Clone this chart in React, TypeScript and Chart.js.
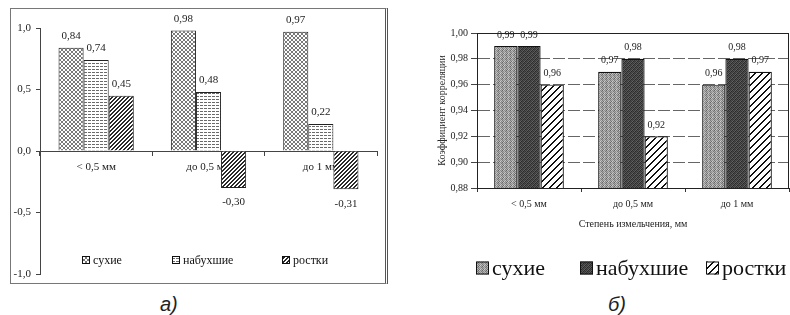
import React, { useEffect, useRef } from "react";
import { Chart, registerables } from "chart.js";

Chart.register(...registerables);

// ---- data ----
const categories = ["< 0,5 мм", "до 0,5 мм", "до 1 мм"];
const seriesNames = ["сухие", "набухшие", "ростки"];

// chart а)
const dryA = [0.84, 0.98, 0.97];
const swollenA = [0.74, 0.48, 0.22];
const sproutsA = [0.45, -0.3, -0.31];
const yTicksA = [-1.0, -0.5, 0.0, 0.5, 1.0];

// chart б)
const dryB = [0.99, 0.97, 0.96];
const swollenB = [0.99, 0.98, 0.98];
const sproutsB = [0.96, 0.92, 0.97];
const yTicksB = [0.88, 0.9, 0.92, 0.94, 0.96, 0.98, 1.0];

const SERIF = "'Liberation Serif', 'DejaVu Serif', serif";

// ---- patterns ----
function makePattern(w: number, h: number, fn: (x: number, y: number) => string) {
  const c = document.createElement("canvas");
  c.width = w;
  c.height = h;
  const ctx = c.getContext("2d")!;
  for (let y = 0; y < h; y++) {
    for (let x = 0; x < w; x++) {
      ctx.fillStyle = fn(x, y);
      ctx.fillRect(x, y, 1, 1);
    }
  }
  const main = document.createElement("canvas").getContext("2d")!;
  return main.createPattern(c, "repeat")!;
}

const speckLight = [
  [150, 190, 120, 175],
  [205, 135, 180, 110],
  [140, 170, 100, 195],
  [185, 120, 160, 140],
];
const speckDark = [
  [60, 90, 50, 80],
  [100, 40, 70, 55],
  [45, 85, 60, 95],
  [75, 50, 90, 40],
];
const g = (v: number) => `rgb(${v},${v},${v})`;

function patternsA() {
  const dots = makePattern(4, 4, (x, y) => (x === y || x === 3 - y ? "#7a7a7a" : "#ffffff"));
  const hlines = makePattern(4, 3, (x, y) => (y === 0 && x < 3 ? "#6a6a6a" : "#ffffff"));
  const hatch = makePattern(4, 4, (x, y) => ((x + y) % 4 < 2 ? "#2a2a2a" : "#ffffff"));
  return [dots, hlines, hatch];
}
function patternsB() {
  const light = makePattern(4, 4, (x, y) => g(speckLight[y][x]));
  const dark = makePattern(4, 4, (x, y) => g(speckDark[y][x]));
  const hatch = makePattern(7, 7, (x, y) => ((x + y) % 7 < 2 ? "#111111" : "#ffffff"));
  return [light, dark, hatch];
}

const fmt = (v: number, d: number) => v.toFixed(d).replace(".", ",");

// ---- plugins ----
function valueLabels(font: string, digits: number) {
  return {
    id: "valueLabels",
    afterDatasetsDraw(chart: any) {
      const ctx = chart.ctx;
      ctx.save();
      ctx.font = font;
      ctx.fillStyle = "#222";
      ctx.textAlign = "center";
      chart.data.datasets.forEach((ds: any, di: number) => {
        const meta = chart.getDatasetMeta(di);
        meta.data.forEach((el: any, i: number) => {
          const v = ds.data[i];
          const txt = fmt(v, digits);
          if (v >= 0) {
            ctx.textBaseline = "bottom";
            ctx.fillText(txt, el.x, el.y - 6);
          } else {
            ctx.textBaseline = "top";
            ctx.fillText(txt, el.x, el.y + 9);
          }
        });
      });
      ctx.restore();
    },
  };
}

function customLegend(xs: number[], y: number, box: number, font: string, gap: number) {
  return {
    id: "customLegend",
    afterDraw(chart: any) {
      const ctx = chart.ctx;
      ctx.save();
      ctx.font = font;
      ctx.textBaseline = "middle";
      ctx.textAlign = "left";
      chart.data.datasets.forEach((ds: any, i: number) => {
        const x = xs[i];
        ctx.fillStyle = ds.backgroundColor;
        ctx.fillRect(x, y - box / 2, box, box);
        ctx.strokeStyle = "#111";
        ctx.lineWidth = 1;
        ctx.strokeRect(x + 0.5, y - box / 2 + 0.5, box - 1, box - 1);
        ctx.fillStyle = "#111";
        ctx.fillText(ds.label, x + box + gap, y + 1);
      });
      ctx.restore();
    },
  };
}

const plotFrame = {
  id: "plotFrame",
  afterDatasetsDraw(chart: any) {
    const { ctx, chartArea: a } = chart;
    ctx.save();
    ctx.strokeStyle = "#222";
    ctx.lineWidth = 1;
    ctx.strokeRect(Math.round(a.left) + 0.5, Math.round(a.top) + 0.5, Math.round(a.right - a.left) - 1, Math.round(a.bottom - a.top));
    ctx.restore();
  },
};

export default function App() {
  const refA = useRef<HTMLCanvasElement>(null);
  const refB = useRef<HTMLCanvasElement>(null);

  useEffect(() => {
    const [pa1, pa2, pa3] = patternsA();
    const [pb1, pb2, pb3] = patternsB();

    const chartA = new Chart(refA.current!, {
      type: "bar",
      data: {
        labels: categories,
        datasets: [
          { label: seriesNames[0], data: dryA, backgroundColor: pa1 as any, borderColor: "#222", borderWidth: 1 },
          { label: seriesNames[1], data: swollenA, backgroundColor: pa2 as any, borderColor: "#222", borderWidth: 1 },
          { label: seriesNames[2], data: sproutsA, backgroundColor: pa3 as any, borderColor: "#222", borderWidth: 1 },
        ],
      },
      options: {
        animation: false,
        responsive: false,
        maintainAspectRatio: false,
        layout: { padding: { left: 0, top: 28, right: 23, bottom: 16 } },
        datasets: { bar: { categoryPercentage: 0.67, barPercentage: 1.0 } },
        plugins: { legend: { display: false }, tooltip: { enabled: false } },
        scales: {
          x: {
            type: "category",
            position: { y: 0 } as any,
            offset: true,
            grid: { display: true, drawOnChartArea: false, offset: true, tickLength: 4, color: "#444" },
            border: { display: true, color: "#444", width: 1 },
            ticks: { padding: 6, color: "#222", font: { family: SERIF, size: 11 } },
          },
          y: {
            min: -1,
            max: 1,
            afterFit: (s: any) => { s.width = 40; },
            afterBuildTicks: (s: any) => { s.ticks = yTicksA.map((v) => ({ value: v })); },
            grid: { display: true, drawOnChartArea: false, tickLength: 4, color: "#444" },
            border: { display: true, color: "#444", width: 1 },
            ticks: {
              padding: 5,
              color: "#222",
              font: { family: SERIF, size: 11 },
              callback: (v: any) => fmt(Number(v), 1),
            },
          },
        },
      },
      plugins: [valueLabels(`11px ${SERIF}`, 2), customLegend([82, 172, 282], 260, 8, `12px ${SERIF}`, 3)],
    });

    const chartB = new Chart(refB.current!, {
      type: "bar",
      data: {
        labels: categories,
        datasets: [
          { label: seriesNames[0], data: dryB, backgroundColor: pb1 as any, borderColor: "#111", borderWidth: 1.2 },
          { label: seriesNames[1], data: swollenB, backgroundColor: pb2 as any, borderColor: "#111", borderWidth: 1.2 },
          { label: seriesNames[2], data: sproutsB, backgroundColor: pb3 as any, borderColor: "#111", borderWidth: 1.2 },
        ],
      },
      options: {
        animation: false,
        responsive: false,
        maintainAspectRatio: false,
        layout: { padding: { left: 0, top: 33, right: 1, bottom: 52 } },
        datasets: { bar: { categoryPercentage: 0.67, barPercentage: 1.0 } },
        plugins: { legend: { display: false }, tooltip: { enabled: false } },
        scales: {
          x: {
            type: "category",
            offset: true,
            afterFit: (s: any) => { s.height = 45; },
            grid: { display: true, drawOnChartArea: false, offset: true, tickLength: 4, color: "#333" },
            border: { display: true, color: "#222", width: 1 },
            ticks: { padding: 6, color: "#222", font: { family: SERIF, size: 10 } },
            title: {
              display: true,
              text: "Степень измельчения, мм",
              color: "#222",
              font: { family: SERIF, size: 10 },
              padding: { top: 4, bottom: 3 },
            },
          },
          y: {
            min: 0.88,
            max: 1.0,
            afterFit: (s: any) => { s.width = 77; },
            afterBuildTicks: (s: any) => { s.ticks = yTicksB.map((v) => ({ value: v })); },
            grid: { display: true, color: "#666", lineWidth: 1, tickLength: 6, tickColor: "#444" },
            border: { display: true, color: "#222", width: 1, dash: [12, 3] },
            ticks: {
              padding: 3,
              color: "#222",
              font: { family: SERIF, size: 10 },
              callback: (v: any) => fmt(Number(v), 2),
            },
            title: {
              display: true,
              text: "Коэффициент корреляции",
              color: "#222",
              font: { family: SERIF, size: 10 },
              padding: { top: 36, bottom: 0 },
            },
          },
        },
      },
      plugins: [plotFrame, valueLabels(`10px ${SERIF}`, 2), customLegend([76, 180, 306], 268, 13, `22px ${SERIF}`, 3)],
    });

    return () => {
      chartA.destroy();
      chartB.destroy();
    };
  }, []);

  const caption: React.CSSProperties = {
    position: "absolute",
    font: "italic 20px 'Liberation Sans', Arial, sans-serif",
    color: "#222",
    lineHeight: "20px",
  };

  return (
    <div style={{ position: "absolute", left: 0, top: 0, width: 790, height: 315, background: "#fff", overflow: "hidden" }}>
      <div
        style={{
          position: "absolute",
          left: 10,
          top: 8,
          width: 378,
          height: 276,
          boxSizing: "border-box",
          border: "1px solid #777",
          borderRight: "3px double #555",
        }}
      />
      <canvas ref={refA} width={400} height={290} style={{ position: "absolute", left: 0, top: 0, width: 400, height: 290 }} />
      <canvas ref={refB} width={390} height={285} style={{ position: "absolute", left: 400, top: 0, width: 390, height: 285 }} />
      <div style={{ ...caption, left: 160, top: 294 }}>а)</div>
      <div style={{ ...caption, left: 608, top: 294 }}>б)</div>
    </div>
  );
}
